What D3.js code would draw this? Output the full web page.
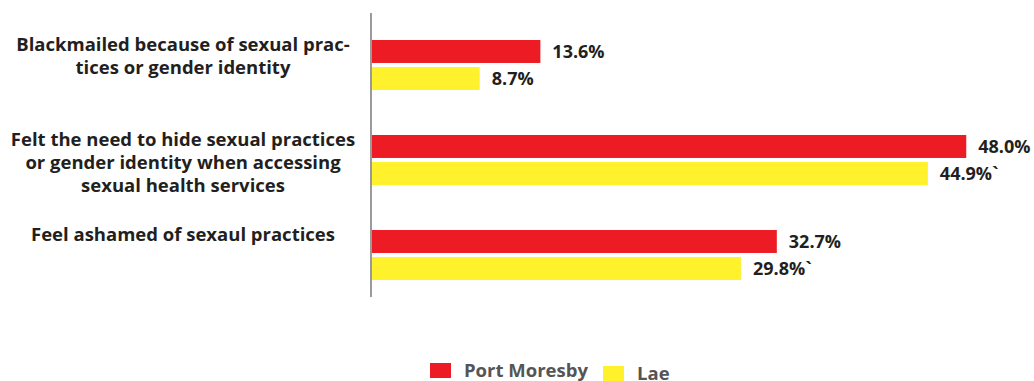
<!DOCTYPE html>
<html>
  <head>
    <meta charset="utf-8">
    <title>Sexual practices bar chart</title>
    <script src="https://cdn.jsdelivr.net/npm/d3@7"></script>
    <style>
      body { margin: 0; background: #fff; }
      svg { display: block; font-family: "Open Sans", sans-serif; }
      .cat { font-size: 18.5px; font-weight: 700; fill: #231f20; }
      .val { font-size: 18px; font-weight: 700; fill: #231f20; }
      .leg { font-size: 18.5px; font-weight: 700; fill: #555; }
    </style>
  </head>
  <body>
    <script>
    // data
    const categories = [
      ["Blackmailed because of sexual prac-", "tices or gender identity"],
      ["Felt the need to hide sexual practices", "or gender identity when accessing", "sexual health services"],
      ["Feel ashamed of sexaul practices"]
    ];
    const seriesNames = ["Port Moresby", "Lae"];
    const portMoresby = [13.6, 48.0, 32.7];
    const lae = [8.7, 44.9, 29.8];
    const valueLabels = [
      ["13.6%", "48.0%", "32.7%"],
      ["8.7%", "44.9%`", "29.8%`"]
    ];
    const colors = ["#ed1c24", "#fff22d"];

    const W = 1034, H = 381;
    const keys = categories.map((c, i) => "c" + i);
    const values = [portMoresby, lae];

    const svg = d3.select("body").append("svg")
      .attr("width", W)
      .attr("height", H);

    const x = d3.scaleLinear().domain([0, 50]).range([372, 991]);

    const y0 = d3.scaleBand().domain(keys)
      .range([17.5, 302.5])
      .paddingInner(0.4737)
      .paddingOuter(0.2368);

    const y1 = d3.scaleBand().domain(seriesNames)
      .range([0, y0.bandwidth()])
      .paddingInner(0.15);

    // bars
    seriesNames.forEach((s, si) => {
      svg.append("g").selectAll("rect")
        .data(values[si]).enter()
        .append("rect")
        .attr("x", x(0))
        .attr("y", (d, i) => y0(keys[i]) + y1(s))
        .attr("width", d => x(d) - x(0))
        .attr("height", y1.bandwidth())
        .attr("fill", colors[si]);

      svg.append("g").selectAll("text")
        .data(values[si]).enter()
        .append("text")
        .attr("class", "val")
        .attr("x", d => x(d) + 12)
        .attr("y", (d, i) => y0(keys[i]) + y1(s) + y1.bandwidth() / 2)
        .attr("dy", "0.36em")
        .text((d, i) => valueLabels[si][i]);
    });

    // vertical axis line
    svg.append("line")
      .attr("x1", 371).attr("x2", 371)
      .attr("y1", 13).attr("y2", 297)
      .attr("stroke", "#9a9a9a")
      .attr("stroke-width", 2);

    // category labels, first line lined up with the red bar
    const cat = svg.append("g").selectAll("text")
      .data(categories).enter()
      .append("text")
      .attr("class", "cat")
      .attr("text-anchor", "middle")
      .attr("y", (d, i) => y0(keys[i]) + y1(seriesNames[0]) + y1.bandwidth() / 2)
      .attr("dy", "0.36em");
    cat.selectAll("tspan")
      .data(d => d).enter()
      .append("tspan")
      .attr("x", 183)
      .attr("dy", (d, j) => j === 0 ? 0 : 23)
      .text(d => d);

    // legend
    const legX = [430, 603], legY = [363, 366];
    const leg = svg.append("g").selectAll("g")
      .data(seriesNames).enter()
      .append("g")
      .attr("transform", (d, i) => "translate(" + legX[i] + "," + legY[i] + ")");
    leg.append("rect")
      .attr("width", 21).attr("height", 15)
      .attr("fill", (d, i) => colors[i]);
    leg.append("text")
      .attr("class", "leg")
      .attr("x", 34)
      .attr("y", 13.5)
      .text(d => d);
    </script>
  </body>
</html>
